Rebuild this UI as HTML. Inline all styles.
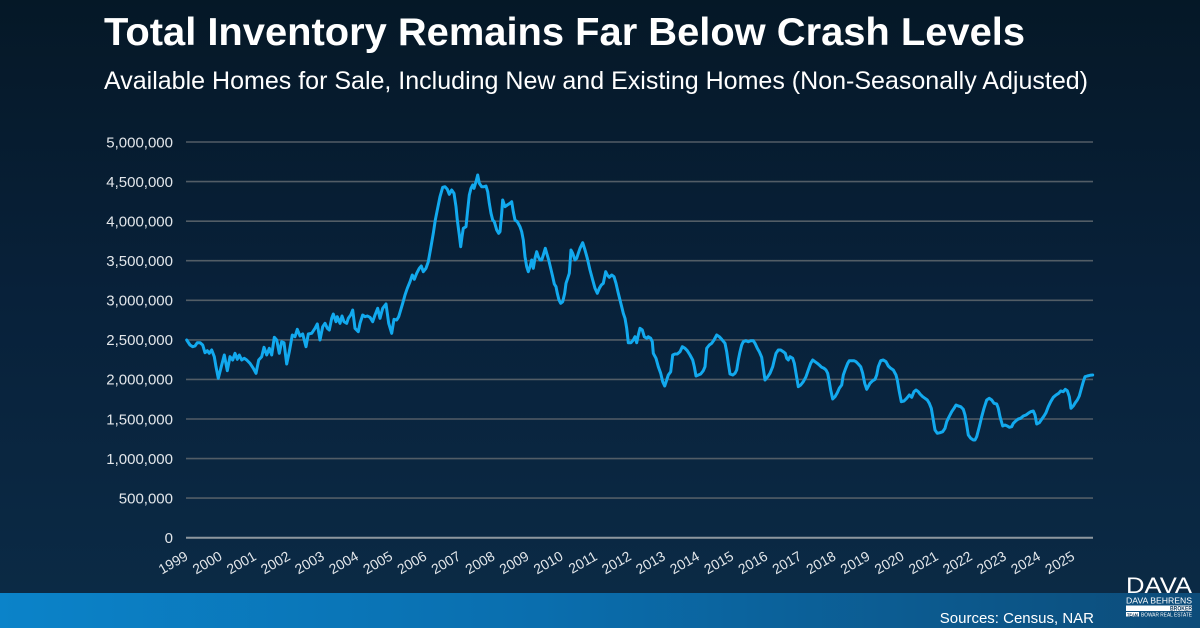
<!DOCTYPE html>
<html>
<head>
<meta charset="utf-8">
<style>
  html,body{margin:0;padding:0;background:#071c2c;}
  svg{display:block;}
  text{font-family:"Liberation Sans", Arial, sans-serif;}
</style>
</head>
<body>
<svg width="1200" height="628" viewBox="0 0 1200 628" xmlns="http://www.w3.org/2000/svg">
  <defs>
    <linearGradient id="bg" x1="0" y1="0" x2="0" y2="1">
      <stop offset="0" stop-color="#051827"/>
      <stop offset="0.5" stop-color="#08213a"/>
      <stop offset="1" stop-color="#0b2a45"/>
    </linearGradient>
    <linearGradient id="band" x1="0" y1="0" x2="1" y2="0">
      <stop offset="0" stop-color="#0b83c9"/>
      <stop offset="0.45" stop-color="#0a6eae"/>
      <stop offset="1" stop-color="#0d4c79"/>
    </linearGradient>
  </defs>
  <rect x="0" y="0" width="1200" height="593" fill="url(#bg)"/>
  <rect x="0" y="593" width="1200" height="35" fill="url(#band)"/>

  <!-- Title -->
  <text x="104" y="45" font-size="38.5" font-weight="bold" fill="#ffffff" textLength="921" lengthAdjust="spacingAndGlyphs">Total Inventory Remains Far Below Crash Levels</text>
  <text x="104" y="89" font-size="24.7" fill="#ffffff" textLength="984" lengthAdjust="spacingAndGlyphs">Available Homes for Sale, Including New and Existing Homes (Non-Seasonally Adjusted)</text>

  <!-- Gridlines -->
  <g stroke="#525d66" stroke-width="1.6">
    <line x1="186" y1="142" x2="1093" y2="142"/>
    <line x1="186" y1="181.6" x2="1093" y2="181.6"/>
    <line x1="186" y1="221.2" x2="1093" y2="221.2"/>
    <line x1="186" y1="260.7" x2="1093" y2="260.7"/>
    <line x1="186" y1="300.3" x2="1093" y2="300.3"/>
    <line x1="186" y1="339.9" x2="1093" y2="339.9"/>
    <line x1="186" y1="379.4" x2="1093" y2="379.4"/>
    <line x1="186" y1="419" x2="1093" y2="419"/>
    <line x1="186" y1="458.6" x2="1093" y2="458.6"/>
    <line x1="186" y1="498.1" x2="1093" y2="498.1"/>
  </g>
  <line x1="186" y1="537.7" x2="1093" y2="537.7" stroke="#8e979f" stroke-width="2"/>

  <!-- Y labels -->
  <g font-size="15" fill="#e2e6ea" text-anchor="end">
    <text x="173" y="147.3">5,000,000</text>
    <text x="173" y="186.9">4,500,000</text>
    <text x="173" y="226.5">4,000,000</text>
    <text x="173" y="266">3,500,000</text>
    <text x="173" y="305.6">3,000,000</text>
    <text x="173" y="345.2">2,500,000</text>
    <text x="173" y="384.7">2,000,000</text>
    <text x="173" y="424.3">1,500,000</text>
    <text x="173" y="463.9">1,000,000</text>
    <text x="173" y="503.4">500,000</text>
    <text x="173" y="543">0</text>
  </g>

  <!-- X labels -->
  <g font-size="14" fill="#e2e6ea" text-anchor="end">
    <text transform="translate(189,559) rotate(-30)">1999</text>
    <text transform="translate(223.1,559) rotate(-30)">2000</text>
    <text transform="translate(257.2,559) rotate(-30)">2001</text>
    <text transform="translate(291.3,559) rotate(-30)">2002</text>
    <text transform="translate(325.4,559) rotate(-30)">2003</text>
    <text transform="translate(359.5,559) rotate(-30)">2004</text>
    <text transform="translate(393.6,559) rotate(-30)">2005</text>
    <text transform="translate(427.7,559) rotate(-30)">2006</text>
    <text transform="translate(461.8,559) rotate(-30)">2007</text>
    <text transform="translate(495.9,559) rotate(-30)">2008</text>
    <text transform="translate(530,559) rotate(-30)">2009</text>
    <text transform="translate(564.1,559) rotate(-30)">2010</text>
    <text transform="translate(598.2,559) rotate(-30)">2011</text>
    <text transform="translate(632.3,559) rotate(-30)">2012</text>
    <text transform="translate(666.4,559) rotate(-30)">2013</text>
    <text transform="translate(700.5,559) rotate(-30)">2014</text>
    <text transform="translate(734.6,559) rotate(-30)">2015</text>
    <text transform="translate(768.7,559) rotate(-30)">2016</text>
    <text transform="translate(802.8,559) rotate(-30)">2017</text>
    <text transform="translate(836.9,559) rotate(-30)">2018</text>
    <text transform="translate(871,559) rotate(-30)">2019</text>
    <text transform="translate(905.1,559) rotate(-30)">2020</text>
    <text transform="translate(939.2,559) rotate(-30)">2021</text>
    <text transform="translate(973.3,559) rotate(-30)">2022</text>
    <text transform="translate(1007.4,559) rotate(-30)">2023</text>
    <text transform="translate(1041.5,559) rotate(-30)">2024</text>
    <text transform="translate(1075.6,559) rotate(-30)">2025</text>
  </g>

  <!-- Data line -->
  <polyline fill="none" stroke="#12a9ee" stroke-width="3" stroke-linejoin="round" stroke-linecap="round" points="
186.7,340 190,345 192.7,346.7 195,346 197.3,342.7 200,342.7 202.7,345 205,352.7 207.3,350.7 209.3,353.3 211.7,350 214.3,356.7 216,366.7 218.3,378.3 221.7,365 224.3,355 227.3,370.7 230,356.7 232.7,360 235,353.3 237.3,359.3 239.3,355 241.7,360 244.3,358.3 246.7,360 250,363.3 253.3,368.3 256,373.3 258.7,360 261.7,356.7 264,347.3 266.7,355 269.3,348.3 271.7,355 274.3,337.3 276.7,340 279.3,353.3 281.7,341.7 284,342.7 286.7,364 289.3,351.7 292.3,335 295,336.7 297.3,329.3 300,336 302.7,334 306,346.7 308.3,334 311.7,333.3 315,328.3 317.3,324 320,340 322.7,326.7 325,323.3 327.3,328.3 329.3,330 331.7,318.3 333.3,314 336,321.7 337.3,316.7 340,323.3 342,316 344,321.7 346.7,323.3 348.3,318.3 350.7,315 352.7,310 355,328.3 358.3,331.7 360,323.3 362.7,315 365,316.7 367.3,316 370,317.3 372.7,321.7 375,315 377.7,308.3 380,318.3 382.7,308.3 386,304 388.7,323.3 391.7,333.3 394,319.3 396.7,320 398.7,316.7
402.7,303.3 405,295 407.3,288.3 410,281.7 412.3,275 414.3,279.3 416.7,273.3 419.3,268.3 421.3,266 423.3,271.7 426,268.3 428.3,261.7 430.7,248.3 433.3,233.3 435.3,220 437.3,210 440,196.7 442.7,187.3 445,186.7 447.3,189.3 449.3,194.3 451.7,190 454,193.3 456,206.7 457.3,220 459.3,235 460.7,246.7 462,236.7 463.3,228.3 466,226.7 467.7,210 469.3,195 471,188.3 472.7,185 474,188.3 476,181.7 477.7,175 479.3,183.3 481.7,186.7 484,186.7 486,186 487.7,191.7 489.3,203.3 491,213.3 492.7,220 494.3,221.7 496.7,230 498.7,233.3 500,231.7 501.7,213.3 502.7,200 505,206.7 507.3,205 510,203.3 511.7,201.7 513.3,211.7 515,220 517.3,221.7 520,226.7 521.7,231.7 523.3,240 525,256.7 526.7,266.7 528.3,271.7 530,266.7 531.7,260 533.3,268.3 535,258.3 536.7,251.7 538.3,256.7 540,260 541.7,260 543.3,255 545.3,248.3 546.7,253.3 548.7,260 550.7,268.3 552.7,276.7 554.3,284 556,286.7 557.3,293.3 559,300 560.7,303.3 562.7,301.7 564.7,293.3 566,283.3 567.7,278.3 569.3,273.3 571,250 572.7,253.3 575,260 576.7,258.3 578.3,253.3 580,248.3 582.7,242.7 585,250 587.3,258.3 590,270 592.7,280 595,288.3 597.3,293.3 599.3,288.3 601.3,285 603.3,283.3 605.7,271.7 607.3,275 609.3,277.3 611.7,275 614,276.7 616,283.3 618.3,293.3 620,300 621.7,306.7 623.3,313.3 625,318.3 626.7,328.3 628.3,342.7 631,342.7 633.3,340 635,336.7 636.7,342.7 638.3,335 640,328.3 642.3,330 644.3,336.7 646.7,338.3 648.3,336.7 650.7,338.3 652.3,341.7 653.3,353.3 656,358.3 658.3,366.7
660.7,373.3 662.7,381.7 664.7,386 666.7,380 668.3,375 670.7,371.7 672.7,355 675,354 677.3,354 680,351.7 682.3,346.7 685,348.3 687.3,350.7 690,355 692.7,360 694.3,366.7 696,376 698.3,375 700.7,374 703.3,370.7 705,366.7 706.7,348.3 709.3,345 711.7,343.3 714,340 716.7,335 719.3,336.7 721.7,339.3 725,343.3 726.7,351.7 728.3,363.3 730,374 732.7,375 735,373.3 736.7,370 738.3,360 740,351.7 741.7,345 743.3,341.7 746,340.7 748.3,341.7 750.7,340.7 753.3,340.7 755,343.3 757.3,348.3 759.3,351.7 761.7,357.3 763.3,368.3 765,380 767.3,377.3 770,373.3 772.7,366.7 774.3,360 776,353.3 778.3,350 780.7,350 783.3,351.7 785.3,353.3 786.7,358.3 788.3,360 790,356.7 792.7,358.3 794.3,363.3 796,373.3 798.3,386.7 800.7,385 803.3,381.7 806,376.7 808.3,370 810.7,363.3 812.7,360 815,361.7 817.3,363.3 819.3,365 821.7,367.3 824,368.3 826,370 827.7,373.3 829.3,381.7 830.7,390 832.7,399 835,396.7 837.3,392.7 839.3,388.3 841.7,385 843.3,375 845.7,368.3 847.7,363.3 849.3,360.7 851.7,360.7 854,360.7 856,361.7 858.3,364 860.7,366.7 862.7,373.3 864.7,383.3 866.7,389.3
870,383.3 872.7,380.7 875,379.3 876.7,375 878.3,366.7 880.7,360.7 883.3,360 886,361.7 888.3,366 890.7,368.3 893.3,370 896,375 897.3,380 899.3,391.7 901.3,401.7 904,401 906.7,398.3 909.3,395 911.7,397.3 914,391.7 916,390 918.3,391.7 920,394 922.7,396.7 925,398.3 927.3,400 929.3,403.3 931.3,408.3 933.3,420 935,430 937.3,433.3 940,432.7 942.7,431.7 945,428.3 946.7,421.7 948.3,418.3 950,415 951.7,411.7 954,408.3 956,405 958.3,406 960.7,406.7 963.3,409.3 965,415 966.7,425 968.3,435 970.7,438.3 973.3,440 975,440 976.7,436.7 979.3,426.7 981.7,416.7 984,408.3 986.7,400 989.3,398.3 991.7,400 994,403.3 996.7,404 998.3,408.3 1000,416.7 1002.7,426 1005,425 1007.3,426 1009.3,427.3 1011.7,426.7 1013.3,423.3 1016,420.7 1018.3,419 1020.7,418.3 1023.3,416 1026,415 1028.3,413.3 1030.7,411.7 1033.3,411 1035,415 1036.7,424 1039.3,422.7 1041.7,419.3 1044,416 1046,412.7 1048.3,406.7 1050.7,401.7 1053.3,397.3 1056,395 1058.7,393.3 1060.7,391 1063.3,391.7 1065.3,389.3 1067.3,390.7 1069.3,396.7 1071,408.3 1073.3,406 1075.3,402.7 1077.3,400 1079.3,396 1081.7,387.3 1083.3,381.7 1085,376.7 1087.3,376 1090,375.3 1092.7,375"/>

  <!-- Sources -->
  <text x="1094" y="623" font-size="15" fill="#ffffff" text-anchor="end">Sources: Census, NAR</text>

  <!-- Logo -->
  <text x="1126" y="593" font-size="22" fill="#ffffff" textLength="66" lengthAdjust="spacingAndGlyphs">DAVA</text>
  <text x="1126" y="603.5" font-size="8" fill="#ffffff" textLength="66" lengthAdjust="spacingAndGlyphs">DAVA BEHRENS</text>
  <rect x="1126" y="605.5" width="66" height="5.5" fill="#ffffff"/>
  <text x="1192" y="610.5" font-size="6" font-weight="bold" fill="#0d3a5e" text-anchor="end" textLength="22" lengthAdjust="spacingAndGlyphs">BROKER</text>
  <rect x="1126" y="612" width="13" height="4.5" fill="#ffffff"/>
  <text x="1127" y="616.3" font-size="4.5" font-weight="bold" fill="#0d3a5e" textLength="11" lengthAdjust="spacingAndGlyphs">TEAM</text>
  <text x="1141" y="616.5" font-size="5" fill="#ffffff" textLength="51" lengthAdjust="spacingAndGlyphs">BOWAR REAL ESTATE</text>
</svg>
</body>
</html>
